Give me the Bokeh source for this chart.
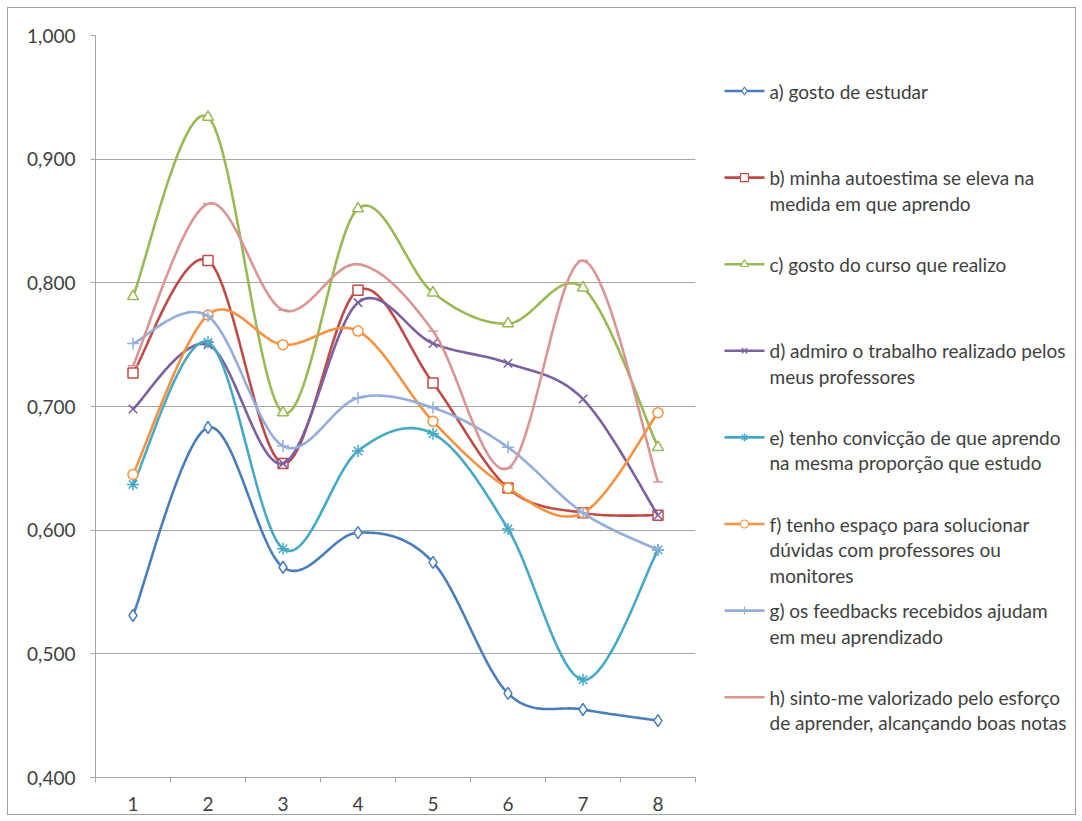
import numpy as np
from bokeh.plotting import figure
from bokeh.models import FixedTicker, Range1d
from bokeh.layouts import row
from bokeh.embed import file_html
from bokeh.resources import INLINE
from bokeh.core.properties import value

# ---------------- data ----------------
categories = [1, 2, 3, 4, 5, 6, 7, 8]
y_ticks = [0.4, 0.5, 0.6, 0.7, 0.8, 0.9, 1.0]
y_tick_labels = ["0,400", "0,500", "0,600", "0,700", "0,800", "0,900", "1,000"]

series_labels = [
    "a) gosto de estudar",
    "b) minha autoestima se eleva na\nmedida em que aprendo",
    "c) gosto do curso que realizo",
    "d) admiro o trabalho realizado pelos\nmeus professores",
    "e) tenho convicção de que aprendo\nna mesma proporção que estudo",
    "f) tenho espaço para solucionar\ndúvidas com professores ou\nmonitores",
    "g) os feedbacks recebidos ajudam\nem meu aprendizado",
    "h) sinto-me valorizado pelo esforço\nde aprender, alcançando boas notas",
]

a_values = [0.531, 0.683, 0.570, 0.598, 0.574, 0.468, 0.455, 0.446]
b_values = [0.727, 0.818, 0.654, 0.794, 0.719, 0.634, 0.614, 0.612]
c_values = [0.789, 0.934, 0.695, 0.860, 0.792, 0.767, 0.796, 0.667]
d_values = [0.698, 0.750, 0.654, 0.784, 0.751, 0.735, 0.706, 0.612]
e_values = [0.637, 0.752, 0.585, 0.664, 0.678, 0.601, 0.479, 0.584]
f_values = [0.645, 0.774, 0.750, 0.761, 0.688, 0.634, 0.614, 0.695]
g_values = [0.751, 0.773, 0.668, 0.707, 0.699, 0.667, 0.614, 0.584]
h_values = [0.733, 0.864, 0.778, 0.815, 0.761, 0.650, 0.818, 0.639]

all_values = [a_values, b_values, c_values, d_values,
              e_values, f_values, g_values, h_values]

# ---------------- styles ----------------
colors = ["#4A7EBB", "#BE4B48", "#98B954", "#7D60A0",
          "#46AAC5", "#F69240", "#93AEDB", "#D99694"]
markers = ["diamond", "square", "triangle", "x",
           "asterisk", "circle", "cross", "dash"]
marker_sizes = [12, 10, 11, 12, 12, 10, 12, 10]

FONT = "Lato"
TEXT_COLOR = "#404040"
GRID_COLOR = "#A6A6A6"
FS = "19px"


def smooth(xs, ys, n=30):
    """Excel-like smoothed line (Catmull-Rom style Bezier segments)."""
    P = np.column_stack([xs, ys]).astype(float)
    P = np.vstack([P[0], P, P[-1]])
    t = np.linspace(0.0, 1.0, n, endpoint=False)[:, None]
    out = []
    for i in range(1, len(P) - 2):
        p0, p1, p2, p3 = P[i - 1], P[i], P[i + 1], P[i + 2]
        c1 = p1 + (p2 - p0) / 6.0
        c2 = p2 - (p3 - p1) / 6.0
        seg = ((1 - t) ** 3) * p1 + 3 * ((1 - t) ** 2) * t * c1 \
            + 3 * (1 - t) * (t ** 2) * c2 + (t ** 3) * p2
        out.append(seg)
    out.append(P[-2][None, :])
    arr = np.vstack(out)
    return arr[:, 0], arr[:, 1]


TOP, BOTTOM = 27, 37
FRAME_H = 742

# ---------------- main chart ----------------
p = figure(frame_width=600, frame_height=FRAME_H,
           x_range=Range1d(0.5, 8.5), y_range=Range1d(0.4, 1.0),
           output_backend="svg", toolbar_location=None,
           min_border_left=87, min_border_right=10,
           min_border_top=TOP, min_border_bottom=BOTTOM)
p.outline_line_color = None
p.background_fill_color = "white"
p.border_fill_color = "white"

p.xgrid.visible = False
p.ygrid.ticker = FixedTicker(ticks=y_ticks)
p.ygrid.grid_line_color = GRID_COLOR
p.ygrid.grid_line_width = 1

p.yaxis.ticker = FixedTicker(ticks=y_ticks)
p.yaxis.major_label_overrides = {t: l for t, l in zip(y_ticks, y_tick_labels)}
p.yaxis.major_tick_in = 0
p.yaxis.major_tick_out = 5
p.yaxis.major_label_standoff = 15

p.xaxis.ticker = FixedTicker(ticks=categories,
                             minor_ticks=[c - 0.5 for c in categories] + [categories[-1] + 0.5])
p.xaxis.major_tick_in = 0
p.xaxis.major_tick_out = 0
p.xaxis.minor_tick_in = 0
p.xaxis.minor_tick_out = 5
p.xaxis.major_label_standoff = 14

for ax in (p.xaxis[0], p.yaxis[0]):
    ax.axis_line_color = GRID_COLOR
    ax.major_tick_line_color = GRID_COLOR
    ax.major_label_text_font = FONT
    ax.major_label_text_font_size = FS
    ax.major_label_text_color = TEXT_COLOR
p.xaxis.minor_tick_line_color = GRID_COLOR
p.yaxis.minor_tick_line_color = None

for vals, col, mk, ms in zip(all_values, colors, markers, marker_sizes):
    sx, sy = smooth(categories, vals)
    p.line(sx, sy, line_color=col, line_width=2.6)
    p.scatter(categories, vals, marker=mk, size=ms, line_color=col,
              fill_color="white", line_width=1.5)

# ---------------- legend panel ----------------
LW = 370
lg = figure(frame_width=LW, frame_height=FRAME_H,
            min_border_left=0, min_border_right=0,
            min_border_top=TOP, min_border_bottom=BOTTOM,
            x_range=Range1d(0, LW), y_range=Range1d(FRAME_H, 0),
            x_axis_location=None, y_axis_location=None,
            output_backend="svg", toolbar_location=None)
lg.outline_line_color = None
lg.grid.visible = False
lg.background_fill_color = "white"
lg.border_fill_color = "white"

item_top = 55.5
item_step = 86.6
line_step = 25.5
for i, (lab, col, mk) in enumerate(zip(series_labels, colors, markers)):
    yc = item_top + i * item_step
    lg.line([19, 59], [yc, yc], line_color=col, line_width=2.6)
    lg.scatter([39], [yc], marker=mk, size=8, line_color=col,
               fill_color="white", line_width=1.2)
    lines = lab.split("\n")
    lg.text(x=[64] * len(lines), y=[yc + k * line_step for k in range(len(lines))],
            text=lines, text_font=value(FONT), text_font_size=FS,
            text_color=TEXT_COLOR, text_baseline="middle", text_align="left")

layout = row(p, lg, margin=(7, 0, 0, 7), styles={"border": "1px solid #A0A0A0"})

open("out.html", "w").write(file_html(layout, INLINE))
